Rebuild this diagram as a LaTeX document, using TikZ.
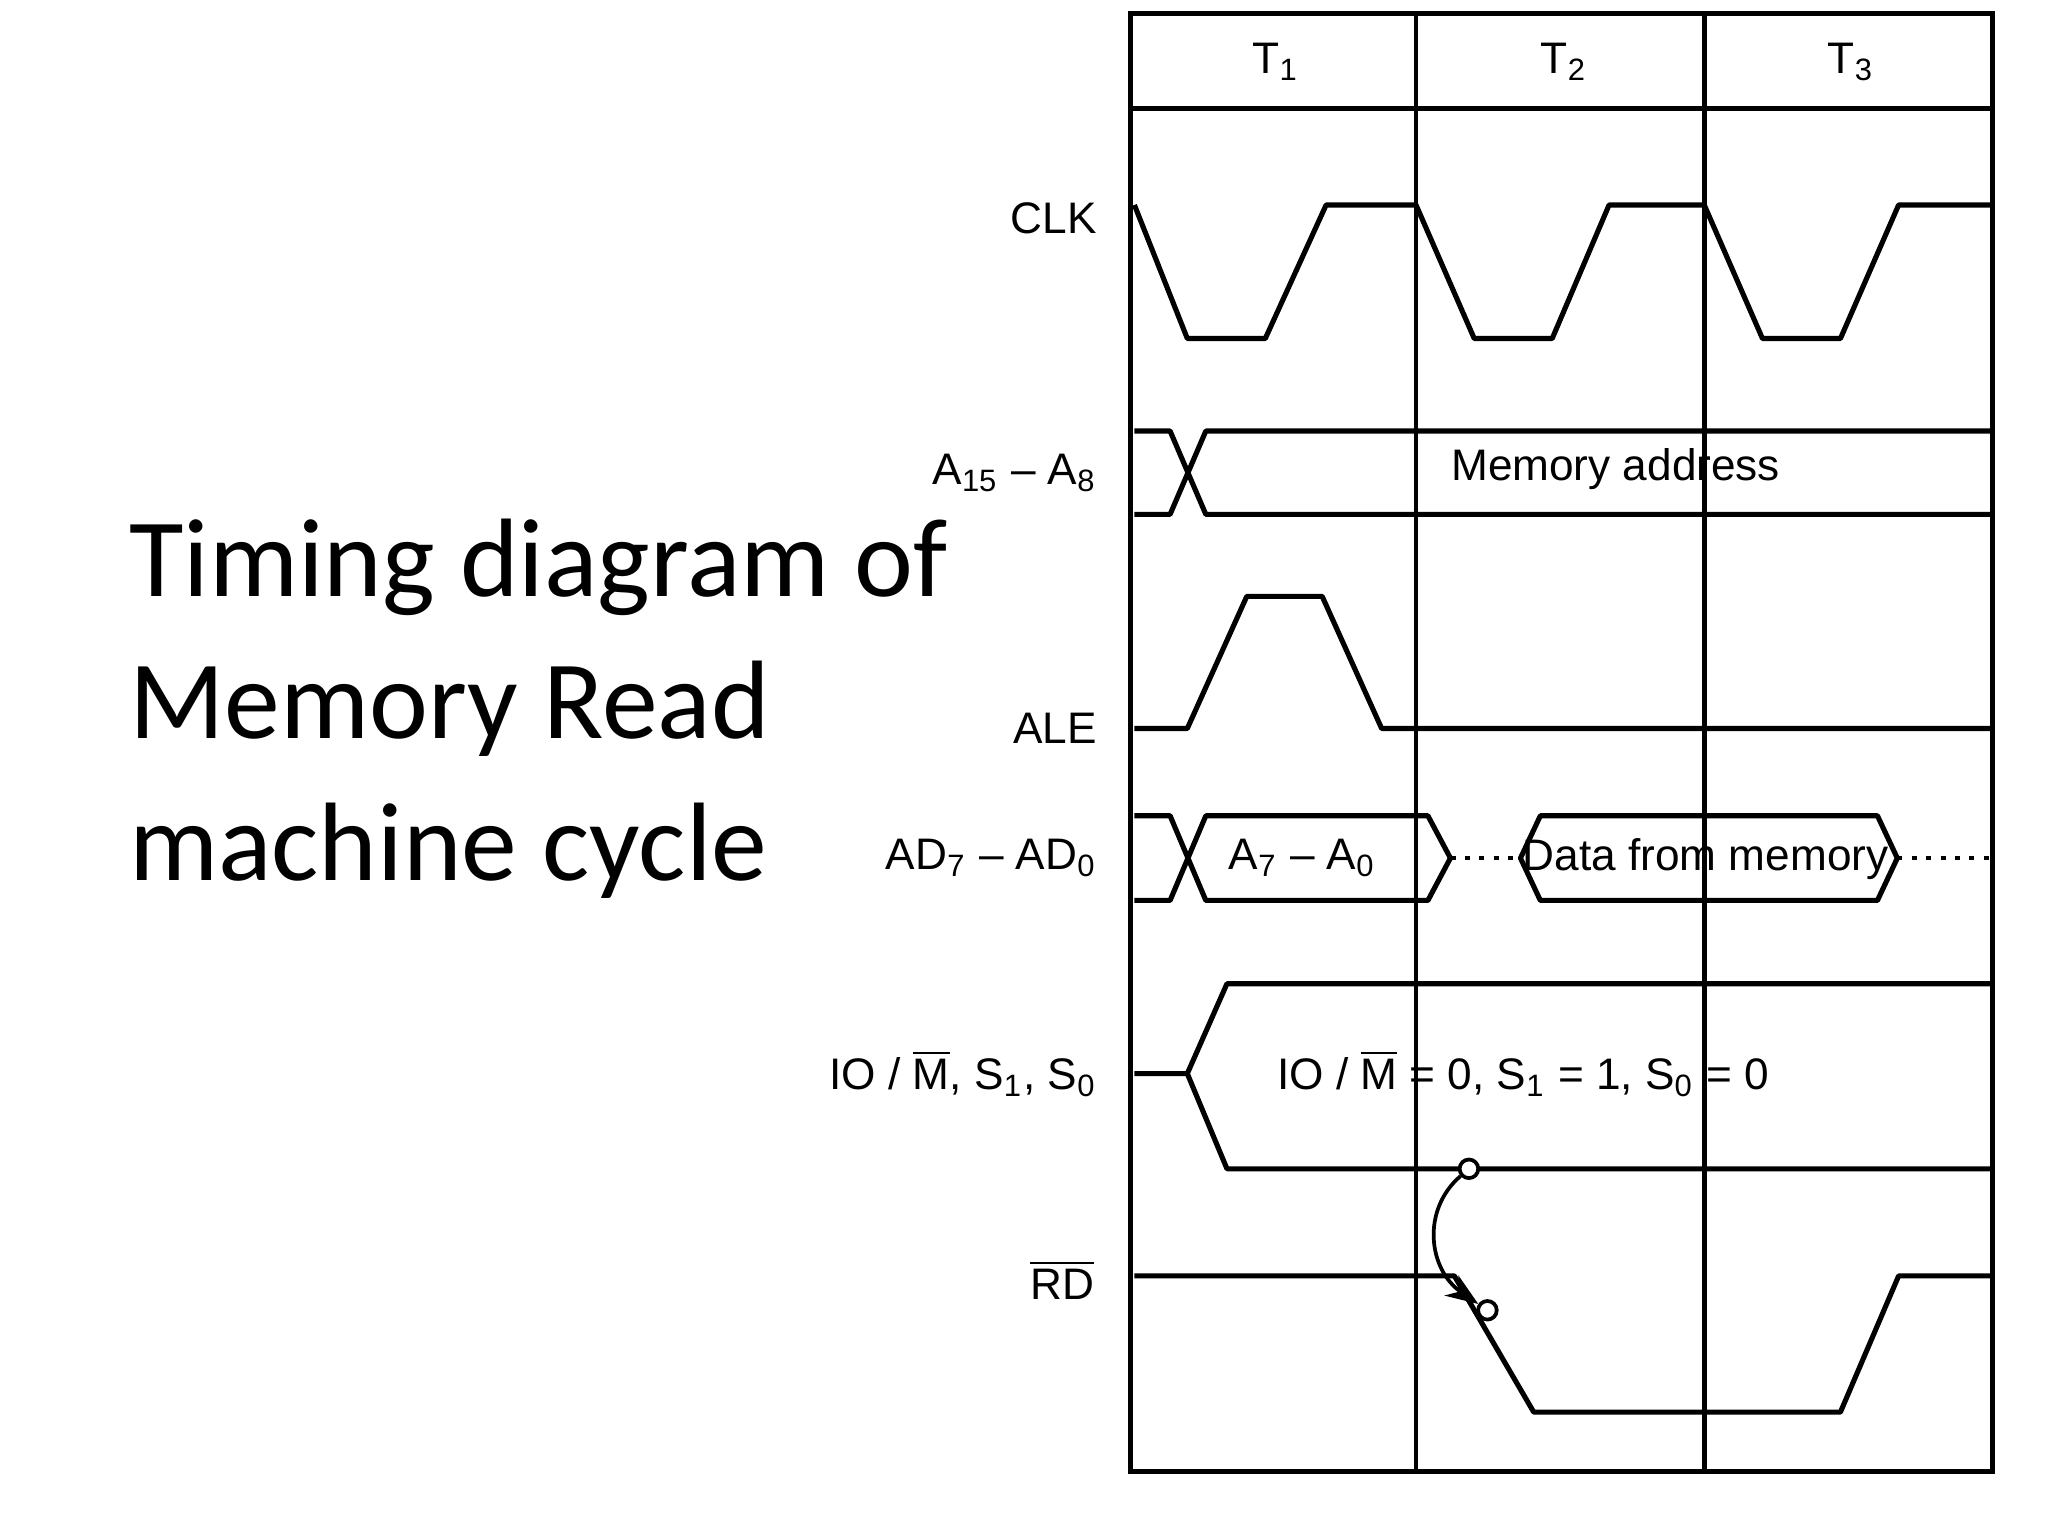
\documentclass[tikz,border=0pt]{standalone}
\usepackage{fontspec}
\setmainfont{Liberation Sans}
\newfontfamily\titlefont{Carlito}
\usetikzlibrary{arrows.meta}
\begin{document}
\begin{tikzpicture}[x=0.01cm,y=-0.01cm]
\tikzset{
    wave/.style={line width=1.1pt, line join=round},
    grid/.style={line width=1pt},
    siglabel/.style={font=\fontsize{9.5}{11}\selectfont, anchor=east},
    buslabel/.style={font=\fontsize{9.5}{11}\selectfont},
    pin/.style={circle, draw, fill=white, inner sep=0pt, minimum size=4pt, line width=0.8pt}
}
\useasboundingbox (0,0) rectangle (1549,1162);

\begin{scope}
    % frame and time states
    \draw[grid] (855,10) rectangle (1507,1113);
    \draw[grid] (855,82) -- (1507,82);
    \draw[grid] (1071,10) -- (1071,1113);
    \draw[grid] (1289,10) -- (1289,1113);
    \node[buslabel] (T1) at (965,47) {T\textsubscript{1}};
    \node[buslabel] (T2) at (1183,47) {T\textsubscript{2}};
    \node[buslabel] (T3) at (1400,47) {T\textsubscript{3}};

    % signal names
    \node[siglabel] (CLK) at (842,165) {CLK};
    \node[siglabel] (Ahi) at (842,358) {A\textsubscript{15} -- A\textsubscript{8}};
    \node[siglabel] (ALE) at (842,551) {ALE};
    \node[siglabel] (AD) at (842,649) {AD\textsubscript{7} -- AD\textsubscript{0}};
    \node[siglabel] (IOM) at (842,812) {IO / $\overline{\mbox{M}}$, S\textsubscript{1}, S\textsubscript{0}};
    \node[siglabel] (RD) at (840,968) {$\overline{\mbox{RD}}$};
\end{scope}

\begin{scope}[every path/.style={wave}]
    % CLK
    \draw (858,155) -- (898,256) -- (957,256) -- (1003,155) -- (1071,155)
          -- (1115,256) -- (1174,256) -- (1217,155) -- (1289,155)
          -- (1333,256) -- (1392,256) -- (1436,155) -- (1505,155);

    % A15-A8
    \draw (858,326) -- (885,326) -- (912,389) -- (1505,389);
    \draw (858,389) -- (885,389) -- (912,326) -- (1505,326);
    \node[buslabel] (addr) at (1222,355) {Memory address};

    % ALE
    \draw (858,551) -- (898,551) -- (943,451) -- (1000,451) -- (1045,551) -- (1505,551);

    % AD7-AD0
    \draw (858,617) -- (885,617) -- (912,681) -- (1080,681) -- (1097,649)
          -- (1080,617) -- (912,617) -- (885,681) -- (858,681);
    \draw (1150,649) -- (1165,617) -- (1420,617) -- (1435,649) -- (1420,681)
          -- (1165,681) -- cycle;
    \draw[dotted, line width=0.9pt] (1097,649) -- (1150,649);
    \draw[dotted, line width=0.9pt] (1435,649) -- (1505,649);
    \node[buslabel] (lowaddr) at (985,649) {A\textsubscript{7} -- A\textsubscript{0}};
    \node[buslabel] (data) at (1290,650) {Data from memory};

    % IO/M, S1, S0
    \draw (858,812) -- (898,812) -- (928,744) -- (1505,744);
    \draw (898,812) -- (928,884) -- (1505,884);
    \node[buslabel] (status) at (1152,812) {IO / $\overline{\mbox{M}}$ = 0, S\textsubscript{1} = 1, S\textsubscript{0} = 0};

    % RD
    \draw (858,965) -- (1100,965) -- (1160,1068) -- (1392,1068) -- (1436,965) -- (1505,965);
\end{scope}

% RD triggered by status
\node[pin] (p1) at (1111,884) {};
\node[pin] (p2) at (1125,991) {};
\draw[-{Stealth[length=7pt]}, line width=0.8pt] (p1) .. controls (1075,915) and (1080,960) .. (p2);

% title
\node[font=\titlefont\fontsize{24}{30.5}\selectfont, anchor=north west, align=left, inner sep=0pt]
    (title) at (97,392) {Timing diagram of\\Memory Read\\machine cycle};
\end{tikzpicture}
\end{document}
